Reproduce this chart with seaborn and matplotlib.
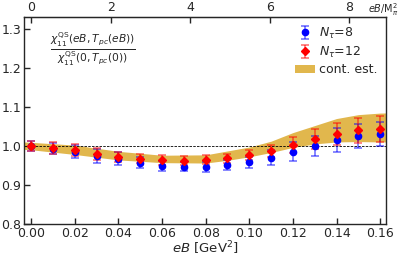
import numpy as np
import pandas as pd
import matplotlib
matplotlib.use("Agg")
import matplotlib.pyplot as plt
import seaborn as sns

eB = [0.00, 0.01, 0.02, 0.03, 0.04, 0.05, 0.06, 0.07, 0.08,
      0.09, 0.10, 0.11, 0.12, 0.13, 0.14, 0.15, 0.16]

# N_tau = 8
chi_nt8 = [1.000, 0.993, 0.985, 0.975, 0.967, 0.957, 0.948, 0.947, 0.946,
           0.951, 0.958, 0.970, 0.985, 1.000, 1.015, 1.025, 1.031]
err_nt8 = [0.013, 0.015, 0.016, 0.018, 0.016, 0.014, 0.013, 0.012, 0.013,
           0.013, 0.014, 0.020, 0.025, 0.026, 0.031, 0.031, 0.031]

# N_tau = 12
chi_nt12 = [1.000, 0.995, 0.989, 0.980, 0.971, 0.967, 0.964, 0.962, 0.965,
            0.968, 0.977, 0.987, 1.002, 1.017, 1.030, 1.040, 1.043]
err_nt12 = [0.013, 0.015, 0.015, 0.015, 0.013, 0.012, 0.012, 0.012, 0.012,
            0.012, 0.012, 0.015, 0.020, 0.026, 0.029, 0.032, 0.033]

# continuum estimate band
band_eB = [-0.01, 0.00, 0.02, 0.04, 0.06, 0.08, 0.09, 0.10, 0.11,
           0.12, 0.13, 0.14, 0.15, 0.16, 0.17]
band_hi = [1.012, 1.009, 1.002, 0.986, 0.976, 0.977, 0.987, 0.997, 1.012,
           1.034, 1.052, 1.070, 1.080, 1.084, 1.085]
band_lo = [0.993, 0.990, 0.978, 0.964, 0.957, 0.956, 0.963, 0.972, 0.983,
           0.996, 1.005, 1.010, 1.011, 1.010, 1.010]

Mpi2 = 0.135**2
top_ticks = [0, 2, 4, 6, 8]

sns.set_style("ticks")
plt.rcParams['font.family'] = ['DejaVu Sans']

fig = plt.figure(figsize=(4.03, 2.58), dpi=100)
ax = fig.add_axes([0.06, 0.132, 0.898, 0.802])

ax.fill_between(band_eB, band_lo, band_hi, color="#daa520", alpha=0.8,
                lw=0, label="cont. est.")
ax.axhline(1.0, color="k", ls="--", lw=0.6, dashes=(3, 1.5))

ax.errorbar(eB, chi_nt8, yerr=err_nt8, fmt="o", color="blue", ms=4.5,
            ecolor=(0, 0, 1, 0.55), elinewidth=1.2, capsize=3, capthick=1.2,
            label=r"$N_{\tau}$=8")
ax.errorbar(eB, chi_nt12, yerr=err_nt12, fmt="D", color="red", ms=4.5,
            ecolor=(1, 0, 0, 0.55), elinewidth=1.2, capsize=3, capthick=1.2,
            label=r"$N_{\tau}$=12")

ax.set_xlim(-0.0032, 0.1627)
ax.set_ylim(0.8, 1.33)
ax.set_xticks(np.arange(0, 0.17, 0.02))
ax.set_yticks([0.8, 0.9, 1.0, 1.1, 1.2, 1.3])
ax.tick_params(direction="in", labelsize=9, length=4, width=1, pad=2)
ax.set_xlabel(r"$eB$ [GeV$^2$]", fontsize=9.5, labelpad=0)

secax = ax.secondary_xaxis("top", functions=(lambda x: x / Mpi2, lambda x: x * Mpi2))
secax.set_xticks(top_ticks)
secax.tick_params(direction="in", labelsize=9, length=4, width=1, pad=2)
fig.text(0.99, 0.962, r"$eB/$M$_{\pi}^2$", fontsize=7, ha="right", va="center")

for s in ax.spines.values():
    s.set_linewidth(1.0)

ax.text(0.19, 0.85,
        r"$\frac{\chi_{11}^{\rm QS}(eB,T_{pc}(eB))}{\chi_{11}^{\rm QS}(0,T_{pc}(0))}$",
        transform=ax.transAxes, ha="center", va="center", fontsize=11)

h, l = ax.get_legend_handles_labels()
order = [1, 2, 0]
ax.legend([h[i] for i in order], [l[i] for i in order], loc="upper right",
          frameon=False, fontsize=9, handlelength=1.6, handletextpad=0.3,
          labelspacing=0.3, borderaxespad=0.3)

fig.savefig("out.png", dpi=100)
